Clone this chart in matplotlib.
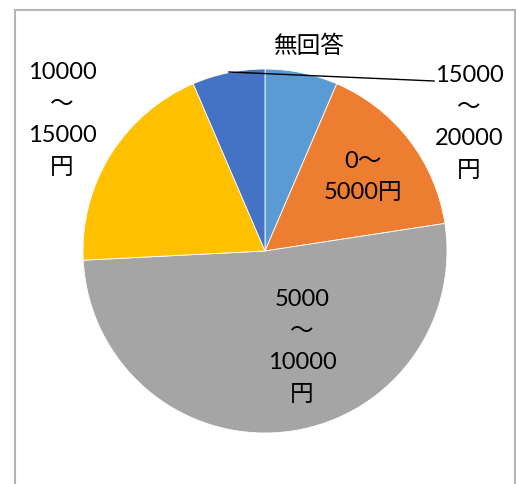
import matplotlib
matplotlib.use("Agg")
import matplotlib.pyplot as plt
from matplotlib.lines import Line2D

categories = ["15000～20000円", "0～5000円", "5000～10000円", "10000～15000円", "無回答"]
values = [2, 5, 16, 6, 2]
colors = ["#5B9BD5", "#ED7D31", "#A5A5A5", "#FFC000", "#4472C4"]
label_texts = ["15000\n～\n20000\n円", "0～\n5000円", "5000\n～\n10000\n円", "10000\n～\n15000\n円", "無回答"]

plt.rcParams['font.family'] = ['Lato', 'Noto Sans CJK JP', 'DejaVu Sans']

W, H = 516, 484
fig = plt.figure(figsize=(W/100, H/100), dpi=100)
fig.patch.set_facecolor("white")

cx, cy, r = 265, 251, 182
ax = fig.add_axes([(cx - r)/W, 1 - (cy + r)/H, 2*r/W, 2*r/H])
ax.pie(values, colors=colors, startangle=90, counterclock=False, radius=1,
       wedgeprops=dict(edgecolor="white", linewidth=0.6))
ax.set_xlim(-1, 1)
ax.set_ylim(-1, 1)
ax.set_aspect("equal")
ax.axis("off")

def px(x, y):
    return x / W, 1 - y / H

# chart border
bc = "#B4B4B4"
for (x0, y0, x1, y1) in [(14.5, 9.5, 514.5, 9.5), (14.5, 9.5, 14.5, 484), (514.5, 9.5, 514.5, 484)]:
    fig.add_artist(Line2D([x0/W, x1/W], [1 - y0/H, 1 - y1/H], color=bc, lw=1.5, transform=fig.transFigure))

# leader line for 無回答
fig.add_artist(Line2D([229/W, 434/W], [1 - 72/H, 1 - 81/H], color="black", lw=1.0, transform=fig.transFigure))

fs = 17
pos = [(469, 123), (363, 177), (302, 347), (62, 120), (309, 46)]
for t, (x, y) in zip(label_texts, pos):
    fig.text(*px(x, y), t, ha="center", va="center", fontsize=fs, linespacing=1.62, color="black")

fig.savefig("out.png", dpi=100)
